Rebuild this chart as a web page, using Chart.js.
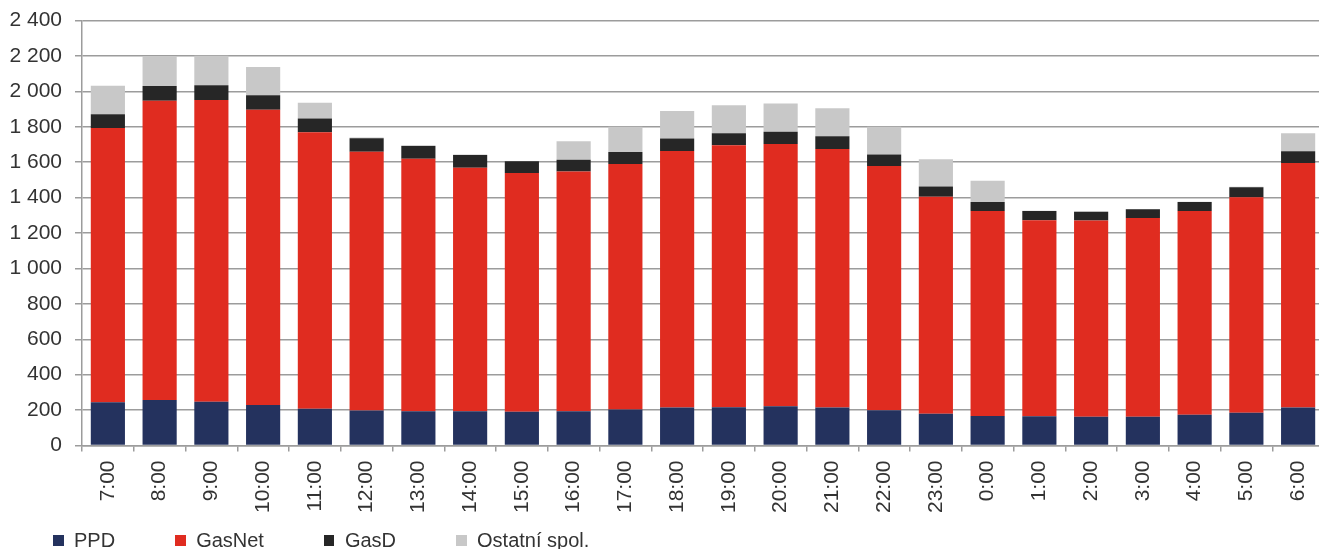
<!DOCTYPE html>
<html>
<head>
<meta charset="utf-8">
<script src="https://cdn.jsdelivr.net/npm/chart.js@4/dist/chart.umd.min.js"></script>
<style>
  html, body { margin:0; padding:0; background:#fff; overflow:hidden; }
  #wrap { position:relative; width:1319px; height:549px; overflow:hidden; }
  #chart { position:absolute; left:0; top:0; }
  #legend { position:absolute; left:53px; top:530px; height:21px; display:flex; align-items:center;
            font-family:"Liberation Sans", Arial, sans-serif; font-size:20px; color:#333; }
  .item { display:flex; align-items:center; margin-right:60px; white-space:nowrap; }
  .box { width:10.5px; height:11px; margin-right:10.5px; }
</style>
</head>
<body>
<div id="wrap">
  <canvas id="chart" width="1324" height="549"></canvas>
  <div id="legend"></div>
</div>
<script>
const hours = ['7:00','8:00','9:00','10:00','11:00','12:00','13:00','14:00','15:00','16:00','17:00','18:00',
               '19:00','20:00','21:00','22:00','23:00','0:00','1:00','2:00','3:00','4:00','5:00','6:00'];

const ppd     = [244,257,247,229,208,197,193,193,191,193,204,214,216,221,214,199,180,167,165,163,163,174,185,214];
const gasNet  = [1549,1690,1704,1667,1561,1462,1427,1376,1348,1355,1386,1449,1479,1482,1460,1379,1225,1157,1107,1107,1122,1150,1217,1381];
const gasD    = [77,83,83,82,77,76,71,71,66,66,67,70,68,69,72,66,57,51,52,50,49,51,57,66];
const ostatni = [162,170,167,159,90,5,4,4,2,104,143,156,158,160,158,156,154,120,2,2,2,2,2,102];

const seriesNames  = ['PPD','GasNet','GasD','Ostatní spol.'];
const seriesColors = ['#24325e','#e02c20','#262626','#c8c8c8'];
const seriesData   = [ppd, gasNet, gasD, ostatni];

const yMin = 0, yMax = 2400, yStep = 200;

const el = (id) => document.getElementById(id);
const fmt = (v) => String(v).replace(/\B(?=(\d{3})+(?!\d))/g, ' ');
// drop the extra padding chart.js adds for the rotated labels
const noPad = (s) => { s.paddingTop = 0; s.paddingBottom = 0; s.paddingLeft = 0; s.paddingRight = 0; };

const gridColor = '#9c9c9c';
const textColor = '#333333';
const font = { family: '"Liberation Sans", Arial, sans-serif', size: 21 };

const datasets = seriesNames.map((name, i) => ({
  label: name,
  data: seriesData[i],
  backgroundColor: seriesColors[i],
  borderWidth: 0,
  barPercentage: 0.66,
  categoryPercentage: 1.0
}));

new Chart(el('chart'), {
  type: 'bar',
  data: { labels: hours, datasets },
  options: {
    responsive: false,
    animation: false,
    layout: { padding: { top: 20.5, left: 0, right: 0, bottom: 0 } },
    plugins: { legend: { display: false }, tooltip: { enabled: false } },
    scales: {
      x: {
        stacked: true,
        offset: true,
        grid: { offset: true, drawOnChartArea: false, drawTicks: true, tickLength: 6, color: gridColor, lineWidth: 1.5 },
        border: { display: true, color: gridColor, width: 1.5 },
        ticks: { color: textColor, font, minRotation: 90, maxRotation: 90, padding: 9, autoSkip: false },
        afterFit: (s) => { s.height = 103.5; noPad(s); }
      },
      y: {
        stacked: true,
        min: yMin, max: yMax,
        grid: { color: gridColor, lineWidth: 1.5, tickLength: 7 },
        border: { display: true, color: gridColor, width: 1.5 },
        ticks: { stepSize: yStep, color: textColor, font, padding: 13, callback: (v) => fmt(v) },
        afterFit: (s) => { s.width = 82; noPad(s); }
      }
    }
  }
});

// legend below the axis
const legend = el('legend');
seriesNames.forEach((name, i) => {
  const item = document.createElement('div'); item.className = 'item';
  const box = document.createElement('span'); box.className = 'box'; box.style.background = seriesColors[i];
  const txt = document.createElement('span'); txt.textContent = name;
  item.appendChild(box); item.appendChild(txt);
  legend.appendChild(item);
});
</script>
</body>
</html>
